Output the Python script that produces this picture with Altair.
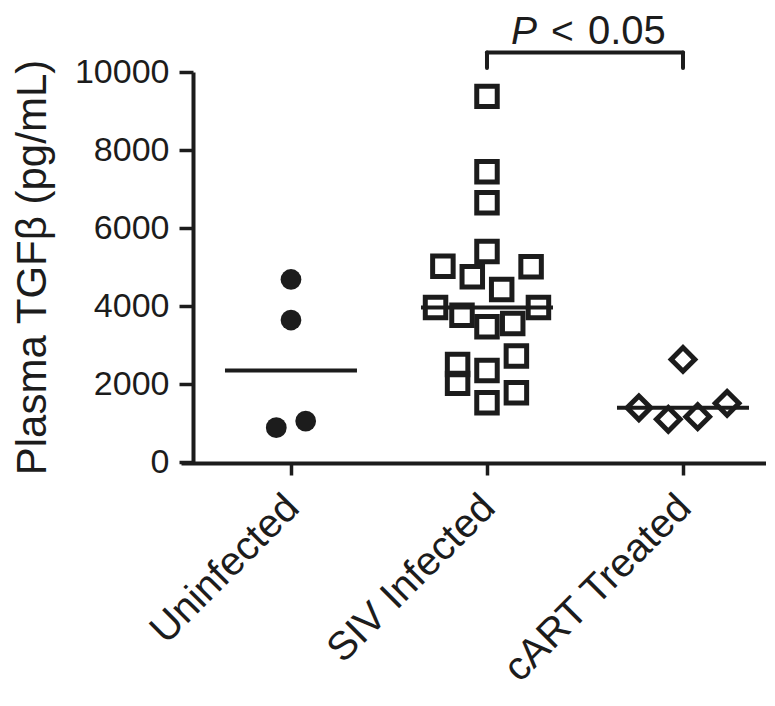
import altair as alt
import pandas as pd

# ---- data ----
groups = ["Uninfected", "SIV Infected", "cART Treated"]

uninfected_vals = [4680, 3640, 1050, 880]
uninfected_jit = [0, 0, 1, -1]

siv_vals = [9375, 7440, 6645, 5400, 5020, 5005, 4750, 4425, 3960, 3960,
            3765, 3553, 3468, 2715, 2503, 2349, 2016, 1778, 1522]
siv_jit = [0, 0, 0, 0, -3, 3, -1, 1, -3.5, 3.5,
           -1.7, 1.75, 0, 2, -2, 0, -2, 2, 0]

cart_vals = [2630, 1504, 1390, 1163, 1094]
cart_jit = [0, 3, -3, 1, -1]

y_ticks = [0, 2000, 4000, 6000, 8000, 10000]
y_title = "Plasma TGFβ (pg/mL)"

bracket_from = "SIV Infected"
bracket_to = "cART Treated"
bracket_top = 10500
bracket_tip = 10100
p_label_y = 10710
p_italic = "P"
p_op = "<"
p_value = "0.05"

INK = "#1c1c1c"
FONT = "Liberation Sans"


def frame(group, vals, jit):
    return pd.DataFrame({"group": [group] * len(vals), "value": vals, "jit": jit})


df_u = frame(groups[0], uninfected_vals, uninfected_jit)
df_s = frame(groups[1], siv_vals, siv_jit)
df_c = frame(groups[2], cart_vals, cart_jit)
df = pd.concat([df_u, df_s, df_c], ignore_index=True)

x_scale = alt.Scale(type="point", domain=groups, padding=0.4923, align=0.5699)
y_scale = alt.Scale(domain=[0, 10000], nice=False, zero=True)
off_scale = alt.Scale(domain=[-4, 4], range=[-58.8, 58.8])

x_enc = alt.X("group:N", scale=x_scale, sort=groups,
              axis=alt.Axis(title=None, labelAngle=-45, labelFontSize=40,
                            labelAlign="right", labelBaseline="top",
                            labelPadding=12, labelOffset=-13, tickSize=12, offset=1,
                            labelLimit=0, labelColor=INK, labelFont=FONT))
y_enc = alt.Y("value:Q", scale=y_scale,
              axis=alt.Axis(title=y_title, values=y_ticks, format="d",
                            labelFontSize=34, titleFontSize=42,
                            titleFontWeight="normal", tickSize=14,
                            labelPadding=10, titlePadding=20, offset=-12,
                            labelColor=INK, titleColor=INK,
                            labelFont=FONT, titleFont=FONT))


def point_layer(d, shape, size, fill, sw):
    return alt.Chart(d).mark_point(opacity=1, shape=shape, size=size, fill=fill,
                                   filled=fill != "transparent", stroke=INK,
                                   strokeWidth=sw).encode(
        x=x_enc,
        xOffset=alt.XOffset("jit:Q", scale=off_scale),
        y=y_enc,
    )


pts_u = point_layer(df_u, "circle", 430, INK, 0)
pts_s = point_layer(df_s, "square", 420, "transparent", 5)
pts_c = point_layer(df_c, "diamond", 560, "transparent", 5)

medians = alt.Chart(df).mark_tick(size=132, thickness=4, color=INK, opacity=1).encode(
    x=alt.X("group:N", scale=x_scale, sort=groups),
    y=alt.Y("median(value):Q", scale=y_scale),
)

bracket_df = pd.DataFrame({"from": [bracket_from], "to": [bracket_to], "y": [bracket_top]})
bracket_h = alt.Chart(bracket_df).mark_rule(color=INK, strokeWidth=4, strokeCap="round").encode(
    x=alt.X("from:N", scale=x_scale),
    x2=alt.X2("to:N"),
    y=alt.Y("y:Q", scale=y_scale),
)

legs_df = pd.DataFrame({"group": [bracket_from, bracket_to],
                        "y": [bracket_tip, bracket_tip],
                        "y2": [bracket_top, bracket_top]})
bracket_v = alt.Chart(legs_df).mark_rule(color=INK, strokeWidth=4, strokeCap="round").encode(
    x=alt.X("group:N", scale=x_scale),
    y=alt.Y("y:Q", scale=y_scale),
    y2="y2:Q",
)

text_df = pd.DataFrame({"group": [bracket_from], "y": [p_label_y],
                        "a": [p_italic], "b": [p_op], "c": [p_value]})


def p_piece(field, dx, align, size, style="normal"):
    return alt.Chart(text_df).mark_text(fontSize=size, fontStyle=style, align=align,
                                        baseline="alphabetic", dx=dx, color=INK,
                                        font=FONT).encode(
        x=alt.X("group:N", scale=x_scale),
        y=alt.Y("y:Q", scale=y_scale),
        text=f"{field}:N",
    )


p_text = p_piece("a", 50, "right", 39, "italic")
op_text = p_piece("b", 64, "left", 39)
val_text = p_piece("c", 101, "left", 40)

chart = alt.layer(medians, pts_u, pts_s, pts_c, bracket_h, bracket_v,
                  p_text, op_text, val_text).properties(
    width=585, height=390,
    autosize=alt.AutoSizeParams(type="none"),
    padding={"left": 173, "top": 64, "right": 0, "bottom": 234},
).configure_view(stroke=None).configure_axis(
    grid=False, domainColor=INK, domainWidth=4, tickColor=INK, tickWidth=3.5,
)

chart.save("out.html", embed_options={"renderer": "svg", "actions": False})
